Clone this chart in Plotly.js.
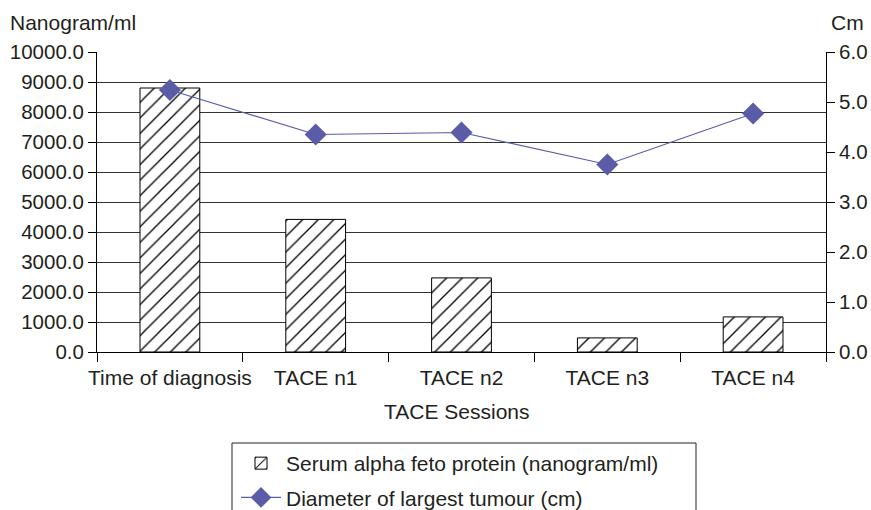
<!DOCTYPE html>
<html>
<head>
<meta charset="utf-8">
<script src="https://cdn.plot.ly/plotly-3.0.1.min.js"></script>
<style>html,body{margin:0;padding:0;background:#fff;}#chart{width:871px;height:510px;}</style>
</head>
<body>
<div id="chart"></div>
<script>
const categories = ["Time of diagnosis", "TACE n1", "TACE n2", "TACE n3", "TACE n4"];
const afpValues = [8800, 4420, 2470, 470, 1170];
const diameterValues = [5.24, 4.35, 4.39, 3.75, 4.77];
const leftTicks = [0, 1000, 2000, 3000, 4000, 5000, 6000, 7000, 8000, 9000, 10000];
const rightTicks = [0, 1, 2, 3, 4, 5, 6];

const FONT = "Liberation Sans, Arial, Helvetica, sans-serif";
const TXT = "#231f20";
const FS = 21;
const FSY = 20.5;
const L = 97, R = 826, T = 52, B = 352, W = 871, H = 510;
const px = x => (x - L) / (R - L);
const py = y => (B - y) / (B - T);

const traces = [
  {
    type: "bar",
    name: "Serum alpha feto protein (nanogram/ml)",
    legendgroup: "afp",
    x: categories,
    y: afpValues,
    width: 0.41,
    marker: {
      color: "#ffffff",
      line: {color: "#000000", width: 1},
      pattern: {shape: "/", fgcolor: "#000000", bgcolor: "#ffffff", size: 11, solidity: 0.12}
    },
    yaxis: "y"
  },
  {
    type: "scatter",
    mode: "lines+markers",
    name: "Diameter of largest tumour (cm)",
    legendgroup: "dia",
    x: categories,
    y: diameterValues,
    line: {color: "#5a5ca8", width: 1.2},
    marker: {symbol: "diamond", size: 17, color: "#5a5ca8"},
    yaxis: "y2"
  }
];

const layout = {
  width: W, height: H,
  margin: {l: L, r: W - R, t: T, b: H - B, pad: 0, autoexpand: false},
  paper_bgcolor: "#ffffff",
  plot_bgcolor: "#ffffff",
  font: {family: FONT, size: FS, color: TXT},
  showlegend: true,
  xaxis: {
    type: "category",
    range: [-0.5, 4.5],
    tickson: "boundaries",
    tickangle: 0,
    ticks: "outside",
    ticklen: 9,
    tickcolor: "#000",
    ticklabelstandoff: 7,
    showline: true,
    linecolor: "#000",
    linewidth: 1,
    showgrid: false,
    zeroline: false,
    automargin: false,
    tickfont: {family: FONT, size: FS, color: TXT},
    fixedrange: true
  },
  yaxis: {
    range: [0, 10000],
    tickvals: leftTicks,
    tickformat: ".1f",
    ticks: "outside",
    ticklen: 8,
    tickcolor: "#000",
    showline: true,
    linecolor: "#000",
    showgrid: true,
    gridcolor: "#333333",
    gridwidth: 1,
    zeroline: false,
    automargin: false,
    tickfont: {family: FONT, size: FSY, color: TXT},
    fixedrange: true
  },
  yaxis2: {
    overlaying: "y",
    side: "right",
    range: [0, 6],
    tickvals: rightTicks,
    tickformat: ".1f",
    ticks: "outside",
    ticklen: 8,
    tickcolor: "#000",
    showline: true,
    linecolor: "#000",
    showgrid: false,
    zeroline: false,
    automargin: false,
    tickfont: {family: FONT, size: FSY, color: TXT},
    fixedrange: true
  },
  legend: {
    x: px(236), xanchor: "left",
    y: py(443), yanchor: "top",
    orientation: "v",
    bgcolor: "rgba(0,0,0,0)",
    borderwidth: 0,
    itemwidth: 40,
    tracegroupgap: 4,
    font: {family: FONT, size: FS, color: TXT},
    traceorder: "grouped"
  },
  shapes: [
    {type: "rect", xref: "paper", yref: "paper",
     x0: px(232), x1: px(696), y0: py(443), y1: py(540),
     line: {color: "#222", width: 1}, fillcolor: "rgba(0,0,0,0)", layer: "below"}
  ],
  annotations: [
    {text: "Nanogram/ml", xref: "paper", yref: "paper", x: px(8), y: py(23),
     xanchor: "left", yanchor: "middle", showarrow: false,
     font: {family: FONT, size: FS, color: TXT}},
    {text: "Cm", xref: "paper", yref: "paper", x: px(847), y: py(23),
     xanchor: "center", yanchor: "middle", showarrow: false,
     font: {family: FONT, size: FS, color: TXT}},
    {text: "TACE Sessions", xref: "paper", yref: "paper", x: px(457), y: py(411),
     xanchor: "center", yanchor: "middle", showarrow: false,
     font: {family: FONT, size: FS, color: TXT}}
  ]
};

Plotly.newPlot("chart", traces, layout, {displayModeBar: false, staticPlot: true});
</script>
</body>
</html>
